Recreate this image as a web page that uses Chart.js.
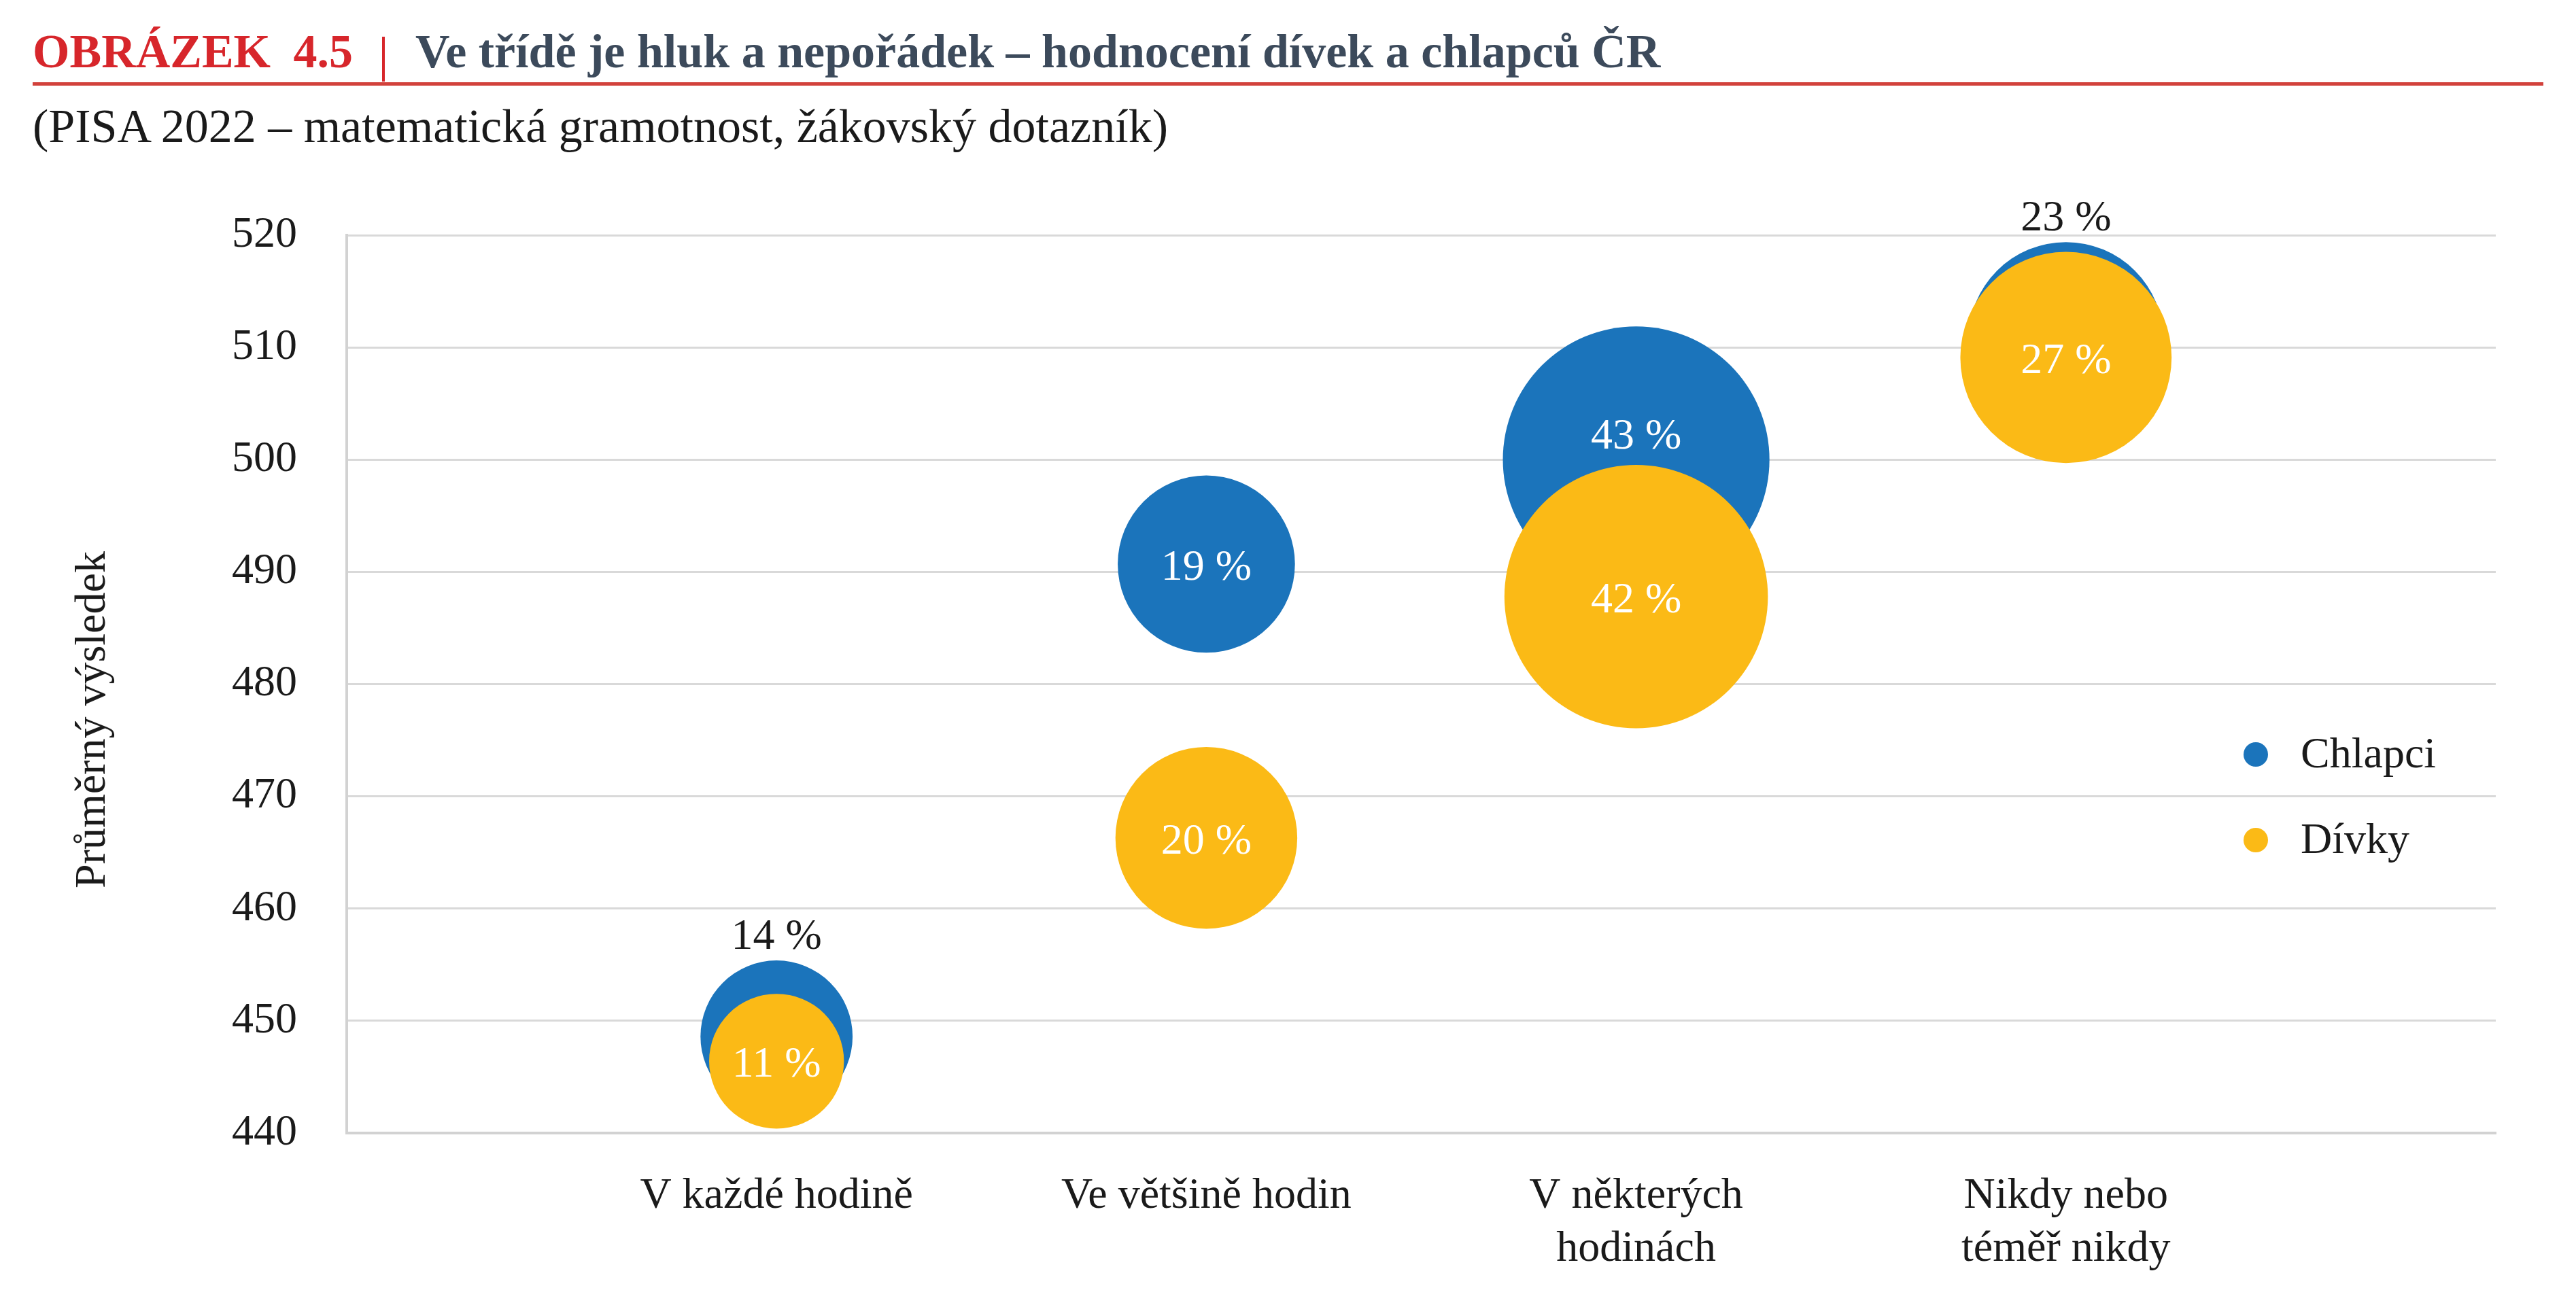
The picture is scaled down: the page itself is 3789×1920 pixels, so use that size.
<!DOCTYPE html>
<html lang="cs">
<head>
<meta charset="UTF-8">
<title>Ve třídě je hluk a nepořádek – hodnocení dívek a chlapců ČR</title>
<style>
  body {
    margin: 0;
    background: #fff;
    font-family: "Liberation Serif", "Times New Roman", serif;
    color: #1a1a1a;
  }
  #page {
    position: relative;
    width: 3789px;
    height: 1920px;
    overflow: hidden;
  }
  #chart {
    position: absolute;
    left: 0;
    top: 0;
  }
  .fig-num, .fig-title {
    position: absolute;
    top: 41px;
    font-size: 70px;
    line-height: 70px;
    font-weight: bold;
    white-space: nowrap;
  }
  .fig-num { left: 48px; color: #d7262b; word-spacing: 16px; }
  .fig-title { left: 611px; color: #3c4a5b; }
  .fig-sep {
    position: absolute;
    left: 562px;
    top: 54px;
    width: 4px;
    height: 66px;
    background: #d7262b;
  }
  .rule {
    position: absolute;
    left: 48px;
    top: 121px;
    width: 3693px;
    height: 5px;
    background: #d2413b;
  }
  .subtitle {
    position: absolute;
    left: 48px;
    top: 151px;
    font-size: 70px;
    line-height: 70px;
    white-space: nowrap;
  }
  .y-title {
    position: absolute;
    left: 133px;
    top: 1059px;
    font-size: 64px;
    line-height: 64px;
    white-space: nowrap;
    transform: translate(-50%, -50%) rotate(-90deg);
  }
  .legend-item {
    position: absolute;
    left: 3300px;
    height: 64px;
    font-size: 64px;
    line-height: 64px;
    white-space: nowrap;
  }
  .legend-item .dot {
    position: absolute;
    left: 0;
    top: 16px;
    width: 36px;
    height: 36px;
    border-radius: 50%;
  }
  .legend-item .txt {
    position: absolute;
    left: 84px;
    top: 0;
  }
</style>
<script src="https://cdn.jsdelivr.net/npm/chart.js"></script>
</head>
<body>
<div id="page">
  <canvas id="chart" width="3789" height="1920"></canvas>
  <div class="fig-num">OBRÁZEK 4.5</div>
  <div class="fig-sep"></div>
  <div class="fig-title">Ve třídě je hluk a nepořádek – hodnocení dívek a chlapců ČR</div>
  <div class="rule"></div>
  <div class="subtitle">(PISA 2022 – matematická gramotnost, žákovský dotazník)</div>
  <div class="y-title">Průměrný výsledek</div>
  <div id="legend"></div>
</div>
<script>
  // categories on the x axis (placed at 1..4)
  const categories = [
    ['V každé hodině'],
    ['Ve většině hodin'],
    ['V některých', 'hodinách'],
    ['Nikdy nebo', 'téměř nikdy']
  ];

  // average score (y) per category
  const boysScore = [448.6, 490.7, 500.0, 510.7];
  const girlsScore = [446.4, 466.3, 487.8, 509.1];

  // share of pupils in %, shown as bubble size and label
  const boysShare = [14, 19, 43, 23];
  const girlsShare = [11, 20, 42, 27];

  const seriesNames = ['Chlapci', 'Dívky'];
  const seriesColors = ['#1b74bb', '#fbba16'];

  const yMin = 440, yMax = 520, yStep = 10;

  const FONT = '"Liberation Serif", "Times New Roman", serif';
  const TEXT = '#1a1a1a';
  const GRID = '#d9d9d9';

  // bubble area proportional to share
  const BUBBLE_K = 29.9;

  function toPoints(scores, shares) {
    return scores.map((v, i) => ({
      x: i + 1,
      y: v,
      r: BUBBLE_K * Math.sqrt(shares[i]),
      share: shares[i]
    }));
  }

  // share labels drawn on/above the bubbles
  const bubbleLabels = {
    id: 'bubbleLabels',
    afterDatasetsDraw(chart) {
      const ctx = chart.ctx;
      ctx.save();
      ctx.font = '64px ' + FONT;
      ctx.textAlign = 'center';
      ctx.textBaseline = 'middle';
      chart.data.datasets.forEach((ds, di) => {
        const meta = chart.getDatasetMeta(di);
        meta.data.forEach((el, i) => {
          const place = ds.labelPlace[i];
          const r = el.options.radius;
          let y = el.y;
          ctx.fillStyle = '#fff';
          if (place === 'above') {
            y = el.y - r - 40;
            ctx.fillStyle = TEXT;
          } else if (place === 'upper') {
            y = el.y - 0.2 * r;
          }
          ctx.fillText(ds.data[i].share + ' %', el.x, y + 6);
        });
      });
      ctx.restore();
    }
  };

  const ctx = document.getElementById('chart').getContext('2d');
  const chart = new Chart(ctx, {
    type: 'bubble',
    data: {
      datasets: [
        {
          label: seriesNames[0],
          data: toPoints(boysScore, boysShare),
          backgroundColor: seriesColors[0],
          borderWidth: 0,
          order: 2,
          labelPlace: ['above', 'center', 'upper', 'above']
        },
        {
          label: seriesNames[1],
          data: toPoints(girlsScore, girlsShare),
          backgroundColor: seriesColors[1],
          borderWidth: 0,
          order: 1,
          labelPlace: ['center', 'center', 'center', 'center']
        }
      ]
    },
    options: {
      responsive: false,
      animation: false,
      events: [],
      clip: false,
      layout: {
        autoPadding: false,
        padding: { top: 346, right: 118, bottom: 0, left: 0 }
      },
      plugins: {
        legend: { display: false },
        tooltip: { enabled: false }
      },
      scales: {
        x: {
          type: 'linear',
          min: 0,
          max: 5,
          grid: { display: false, drawTicks: false },
          border: { display: true, color: '#d2d2d2', width: 4 },
          ticks: {
            stepSize: 1,
            autoSkip: false,
            maxRotation: 0,
            padding: 54,
            color: TEXT,
            font: { family: FONT, size: 64, lineHeight: 1.22 },
            callback: (v) => categories[v - 1] || null
          },
          afterFit: (scale) => { scale.height = 253; }
        },
        y: {
          min: yMin,
          max: yMax,
          grid: { color: GRID, lineWidth: 3, drawTicks: false },
          border: { display: true, color: '#d2d2d2', width: 4 },
          ticks: {
            stepSize: yStep,
            padding: 73,
            color: TEXT,
            font: { family: FONT, size: 64 }
          },
          afterFit: (scale) => { scale.width = 510; }
        }
      }
    },
    plugins: [bubbleLabels]
  });

  // legend inside the plot area, on the right
  const legend = document.getElementById('legend');
  chart.data.datasets.forEach((ds, i) => {
    const item = document.createElement('div');
    item.className = 'legend-item';
    item.style.top = (1076 + i * 126) + 'px';
    item.innerHTML = '<span class="dot" style="background:' + ds.backgroundColor + '"></span>' +
      '<span class="txt">' + ds.label + '</span>';
    legend.appendChild(item);
  });
</script>
</body>
</html>
